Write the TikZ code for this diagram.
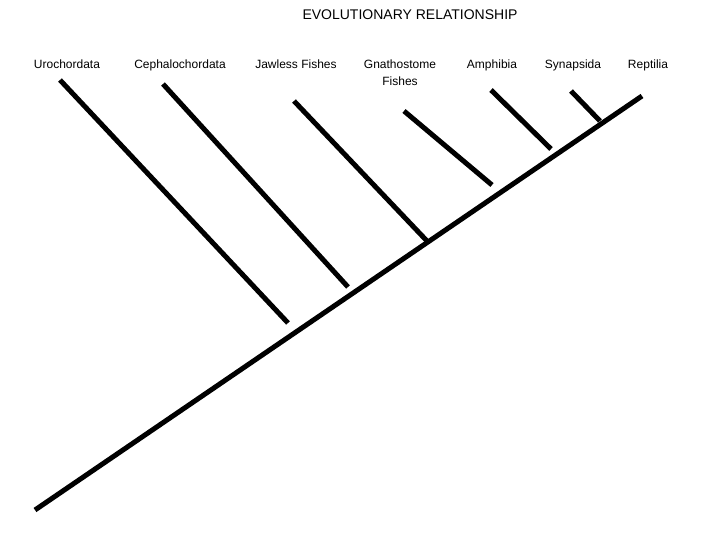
\documentclass[tikz,border=0pt]{standalone}
\usepackage{fontspec}
\setmainfont{Liberation Sans}
\begin{document}
\begin{tikzpicture}[x=1pt,y=-1pt,
  lbl/.style={font=\fontsize{12}{17}\selectfont,align=center,anchor=north,inner sep=0pt},
  br/.style={line width=5pt}]
\useasboundingbox (0,0) rectangle (720,540);
\node[font=\fontsize{14}{16}\selectfont,inner sep=0pt] (title) at (410,15) {EVOLUTIONARY RELATIONSHIP};
\node[lbl] (u) at (67,60) {Urochordata};
\node[lbl] (c) at (180,60) {Cephalochordata};
\node[lbl] (j) at (296,60) {Jawless Fishes};
\node[lbl] (g) at (400,60) {Gnathostome\\Fishes};
\node[lbl] (a) at (492,60) {Amphibia};
\node[lbl] (s) at (573,60) {Synapsida};
\node[lbl] (r) at (648,60) {Reptilia};
\coordinate (root) at (35,510);
\coordinate (tip) at (642,96);
\coordinate (u1) at (60,80);   \coordinate (u2) at (288,323);
\coordinate (c1) at (163,84);  \coordinate (c2) at (348,287);
\coordinate (j1) at (294,101); \coordinate (j2) at (427,241);
\coordinate (g1) at (404,111); \coordinate (g2) at (492,185);
\coordinate (a1) at (491,90);  \coordinate (a2) at (551,149);
\coordinate (s1) at (571,91);  \coordinate (s2) at (600,121);
\draw[br] (root) -- (tip);
\draw[br] (u1) -- (u2);
\draw[br] (c1) -- (c2);
\draw[br] (j1) -- (j2);
\draw[br] (g1) -- (g2);
\draw[br] (a1) -- (a2);
\draw[br] (s1) -- (s2);
\end{tikzpicture}
\end{document}
